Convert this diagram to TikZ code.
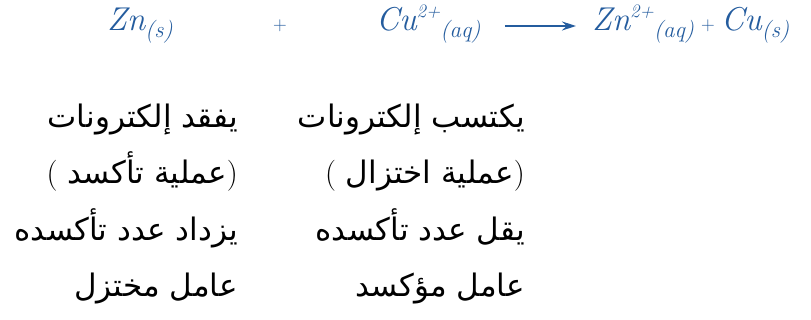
\documentclass[tikz,border=0pt]{standalone}
\usepackage{fontspec}
\newfontfamily\arabicfont[Script=Arabic]{DejaVu Sans}
\TeXXeTstate=1
\usepackage{xcolor}
\usepackage{tikz}
\usetikzlibrary{arrows.meta, positioning}
\definecolor{eqblue}{RGB}{36,92,158}
\newcommand{\chsub}[1]{\raisebox{-7pt}{\fontsize{23}{23}\selectfont #1}}
\newcommand{\chsup}[1]{\raisebox{13pt}{\fontsize{19}{19}\selectfont #1}}

\begin{document}
\begin{tikzpicture}[x=1pt, y=-1pt,
    chem/.style={text=eqblue, font=\fontsize{33}{36}\selectfont\itshape, inner sep=0pt, anchor=base west},
    plus/.style={text=eqblue, font=\fontsize{19}{20}\selectfont, inner sep=0pt, anchor=base},
    arab/.style={font=\arabicfont\fontsize{31}{34}\selectfont, inner sep=0pt, anchor=base east}]
      \useasboundingbox (0,0) rectangle (811,320);

      % equation
      \node[chem] (zn1) at (107,31) {Zn\chsub{(s)}};
      \node[plus] (plus1) at (280,31) {+};
      \node[chem] (cu1) at (376,31) {Cu\chsup{2+}\chsub{(aq)}};
      \node[chem] (zn2) at (592,31) {Zn\chsup{2+}\chsub{(aq)}};
      \node[plus] (plus2) at (708,31) {+};
      \node[chem] (cu2) at (721,31) {Cu\chsub{(s)}};

      \draw[eqblue, line width=1.4pt, -{Stealth[length=14pt, width=9pt]}, shorten <=24pt, shorten >=16pt]
        ([yshift=5pt]cu1.base east) -- ([yshift=5pt]zn2.base west);

      % zinc column
      \node[arab] (ox1) at (238,128) {\beginR يفقد إلكترونات\endR};
      \node[arab] (ox2) at (238,184) {{\rmfamily(}\ \beginR عملية تأكسد\endR{\rmfamily)}};
      \node[arab] (ox3) at (238,241) {\beginR يزداد عدد تأكسده\endR};
      \node[arab] (ox4) at (238,297) {\beginR عامل مختزل\endR};

      % copper column
      \node[arab] (red1) at (525,128) {\beginR يكتسب إلكترونات\endR};
      \node[arab] (red2) at (525,184) {{\rmfamily(}\ \beginR عملية اختزال\endR{\rmfamily)}};
      \node[arab] (red3) at (525,241) {\beginR يقل عدد تأكسده\endR};
      \node[arab] (red4) at (525,297) {\beginR عامل مؤكسد\endR};
    \end{tikzpicture}
\end{document}
